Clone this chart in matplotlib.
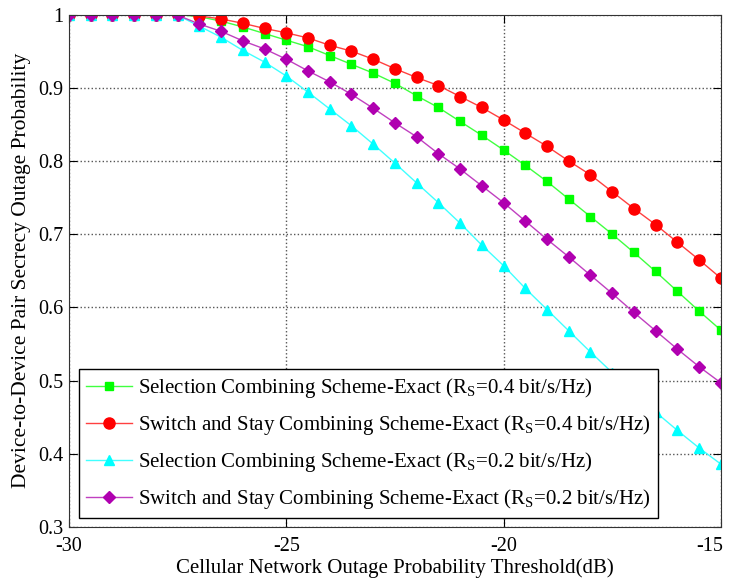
import numpy as np
import matplotlib
matplotlib.use("Agg")
import matplotlib.pyplot as plt
import matplotlib.transforms as mtransforms

plt.rcParams['font.family'] = ['Liberation Serif', 'DejaVu Serif']
plt.rcParams['mathtext.fontset'] = 'custom'
plt.rcParams['mathtext.rm'] = 'Liberation Serif'
plt.rcParams['axes.unicode_minus'] = False

# threshold in dB, step 0.5
x = np.arange(-30, -14.9, 0.5)

sc_04 = [1.0, 1.0, 1.0, 1.0, 1.0, 1.0, 0.997, 0.991, 0.983, 0.974, 0.965,
         0.956, 0.944, 0.932, 0.920, 0.906, 0.889, 0.873, 0.854, 0.835, 0.815,
         0.794, 0.772, 0.748, 0.724, 0.700, 0.675, 0.649, 0.622, 0.595, 0.569]
ssc_04 = [1.0, 1.0, 1.0, 1.0, 1.0, 1.0, 0.998, 0.994, 0.988, 0.981, 0.975,
          0.968, 0.958, 0.950, 0.939, 0.926, 0.914, 0.903, 0.888, 0.873, 0.856,
          0.838, 0.820, 0.800, 0.781, 0.758, 0.735, 0.713, 0.689, 0.665, 0.640]
sc_02 = [1.0, 1.0, 1.0, 1.0, 1.0, 0.999, 0.984, 0.969, 0.951, 0.935, 0.916,
         0.894, 0.871, 0.848, 0.823, 0.797, 0.770, 0.743, 0.715, 0.685, 0.657,
         0.626, 0.597, 0.568, 0.539, 0.511, 0.484, 0.457, 0.432, 0.408, 0.386]
ssc_02 = [1.0, 1.0, 1.0, 1.0, 1.0, 0.999, 0.987, 0.977, 0.964, 0.953, 0.939,
          0.923, 0.908, 0.891, 0.872, 0.852, 0.833, 0.810, 0.789, 0.766, 0.743,
          0.718, 0.693, 0.669, 0.644, 0.619, 0.593, 0.568, 0.543, 0.519, 0.497]

fig = plt.figure(figsize=(7.29, 5.81), dpi=100)
ax = fig.add_axes([0.0947, 0.093, 0.894, 0.882])

ax.plot(x, sc_04, color='#40ff40', lw=1, marker='s', ms=6,
        mfc='#00ff00', mec='#00ff00',
        label=r'Selection Combining Scheme-Exact (R$_\mathrm{S}$=0.4 bit/s/Hz)')
ax.plot(x, ssc_04, color='#ff4040', lw=1, marker='o', ms=8,
        mfc='#ff0000', mec='#ff0000',
        label=r'Switch and Stay Combining Scheme-Exact (R$_\mathrm{S}$=0.4 bit/s/Hz)')
ax.plot(x, sc_02, color='#40ffff', lw=1, marker='^', ms=7.5,
        mfc='#00ffff', mec='#00ffff',
        label=r'Selection Combining Scheme-Exact (R$_\mathrm{S}$=0.2 bit/s/Hz)')
ax.plot(x, ssc_02, color='#c040c0', lw=1, marker='D', ms=6,
        mfc='#b000b0', mec='#b000b0',
        label=r'Switch and Stay Combining Scheme-Exact (R$_\mathrm{S}$=0.2 bit/s/Hz)')

ax.set_xlim(-30, -15)
ax.set_ylim(0.3, 1.0)
ax.set_xticks([-30, -25, -20, -15])
ax.set_yticks([0.3, 0.4, 0.5, 0.6, 0.7, 0.8, 0.9, 1.0])
ax.set_yticklabels(['0.3', '0.4', '0.5', '0.6', '0.7', '0.8', '0.9', '1'])
ax.grid(True, linestyle=':', color='#555555', lw=1)
ax.tick_params(direction='in', top=True, right=True, labelsize=14.5, length=6)
ax.tick_params(axis='x', pad=7)
ax.tick_params(axis='y', pad=4)
for s in ax.spines.values():
    s.set_color('#333333')

# last x tick label pulled inside the figure like the original
lbl = ax.get_xticklabels()[-1]
lbl.set_transform(lbl.get_transform() +
                  mtransforms.ScaledTranslation(-8 / 72, 0, fig.dpi_scale_trans))

ax.set_xlabel('Cellular Network Outage Probability Threshold(dB)', fontsize=15, labelpad=2)
ax.set_ylabel('Device-to-Device Pair Secrecy Outage Probability', fontsize=15.5, labelpad=5)

leg = ax.legend(loc='lower left', bbox_to_anchor=(0.015, 0.017), fontsize=15,
                fancybox=False, framealpha=1, edgecolor='black',
                handlelength=2.2, handletextpad=0.3, borderpad=0.35,
                labelspacing=0.62, borderaxespad=0)
leg.get_frame().set_linewidth(1)

fig.savefig('out.png', dpi=100)
